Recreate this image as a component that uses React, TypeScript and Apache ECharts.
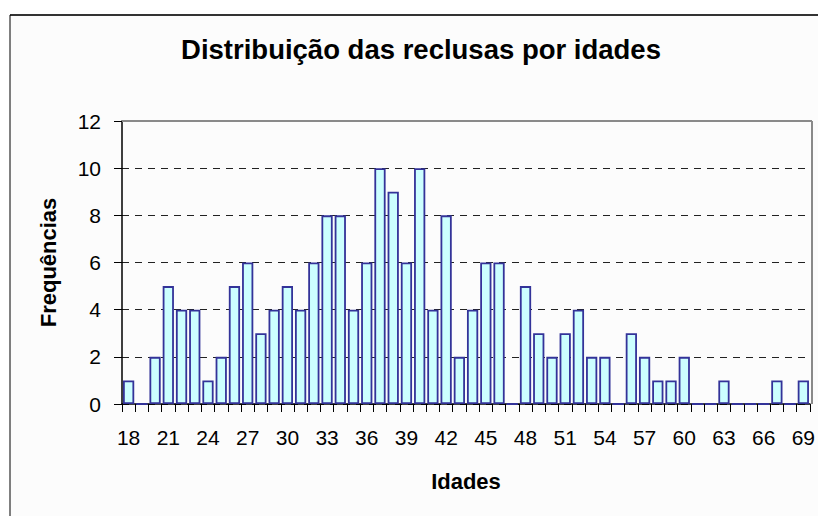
import React, { useEffect, useRef } from "react";
import * as echarts from "echarts";

const ages: string[] = [
  "18","19","20","21","22","23","24","25","26","27","28","29","30","31","32","33","34",
  "35","36","37","38","39","40","41","42","43","44","45","46","47","48","49","50","51",
  "52","53","54","55","56","57","58","59","60","61","62","63","64","65","66","67","68","69",
];
const frequencies: number[] = [
  1, 0, 2, 5, 4, 4, 1, 2, 5, 6, 3, 4, 5, 4, 6, 8, 8,
  4, 6, 10, 9, 6, 10, 4, 8, 2, 4, 6, 6, 0, 5, 3, 2, 3,
  4, 2, 2, 0, 3, 2, 1, 1, 2, 0, 0, 1, 0, 0, 0, 1, 0, 1,
];
const titleText = "Distribuição das reclusas por idades";
const xTitle = "Idades";
const yTitle = "Frequências";

const FONT = "'Liberation Sans', Arial, sans-serif";

export default function App() {
  const ref = useRef<HTMLDivElement>(null);
  useEffect(() => {
    if (!ref.current) return;
    const chart = echarts.init(ref.current, undefined, { renderer: "svg" });
    chart.setOption({
      animation: false,
      backgroundColor: "#ffffff",
      textStyle: { fontFamily: FONT },
      graphic: [
        {
          type: "rect",
          z: -10,
          shape: { x: 10, y: 15, width: 900, height: 600 },
          style: { fill: "#fcfcfc", stroke: "none" },
        },
        {
          type: "line",
          z: -9,
          shape: { x1: 10, y1: 15, x2: 900, y2: 15 },
          style: { stroke: "#333333", lineWidth: 2 },
        },
        {
          type: "line",
          z: -9,
          shape: { x1: 10, y1: 15, x2: 10, y2: 600 },
          style: { stroke: "#000000", lineWidth: 1 },
        },
        {
          type: "line",
          z: 20,
          shape: { x1: 122, y1: 121, x2: 812, y2: 121 },
          style: { stroke: "#8a8a8a", lineWidth: 2 },
        },
        {
          type: "line",
          z: 20,
          shape: { x1: 812, y1: 121, x2: 812, y2: 404 },
          style: { stroke: "#8a8a8a", lineWidth: 2 },
        },
        {
          type: "text",
          x: 421,
          y: 49,
          style: {
            text: titleText,
            font: `bold 27.5px ${FONT}`,
            fill: "#000000",
            align: "center",
            verticalAlign: "middle",
          },
        },
      ],
      grid: {
        left: 122,
        top: 121,
        right: 6,
        bottom: 112,
        show: true,
        backgroundColor: "#fcfcfc",
        borderWidth: 0,
      },
      xAxis: {
        type: "category",
        data: ages,
        name: xTitle,
        nameLocation: "middle",
        nameGap: 66,
        nameTextStyle: { fontFamily: FONT, fontSize: 22, fontWeight: "bold", color: "#000" },
        axisLine: { show: true, lineStyle: { color: "#000", width: 1.5 } },
        axisTick: { show: true, interval: 0, length: 8, alignWithLabel: false, lineStyle: { color: "#000" } },
        axisLabel: { interval: 2, margin: 23, fontFamily: FONT, fontSize: 21, color: "#000" },
        splitLine: { show: false },
      },
      yAxis: {
        type: "value",
        min: 0,
        max: 12,
        interval: 2,
        name: yTitle,
        nameLocation: "middle",
        nameGap: 63,
        nameRotate: 90,
        nameTextStyle: { fontFamily: FONT, fontSize: 22, fontWeight: "bold", color: "#000" },
        axisLine: { show: true, lineStyle: { color: "#000", width: 1.5 } },
        axisTick: { show: true, length: 8, lineStyle: { color: "#000" } },
        axisLabel: { margin: 21, fontFamily: FONT, fontSize: 21, color: "#000" },
        splitLine: { show: true, lineStyle: { color: "#222", width: 1, type: [7, 6] } },
      },
      series: [
        {
          type: "bar",
          data: frequencies,
          barCategoryGap: "15%",
          itemStyle: { color: "#ccffff", borderColor: "#333399", borderWidth: 1.8 },
        },
      ],
    });
    return () => chart.dispose();
  }, []);
  return (
    <div
      ref={ref}
      style={{ position: "fixed", left: 0, top: 0, width: 818, height: 516 }}
    />
  );
}
